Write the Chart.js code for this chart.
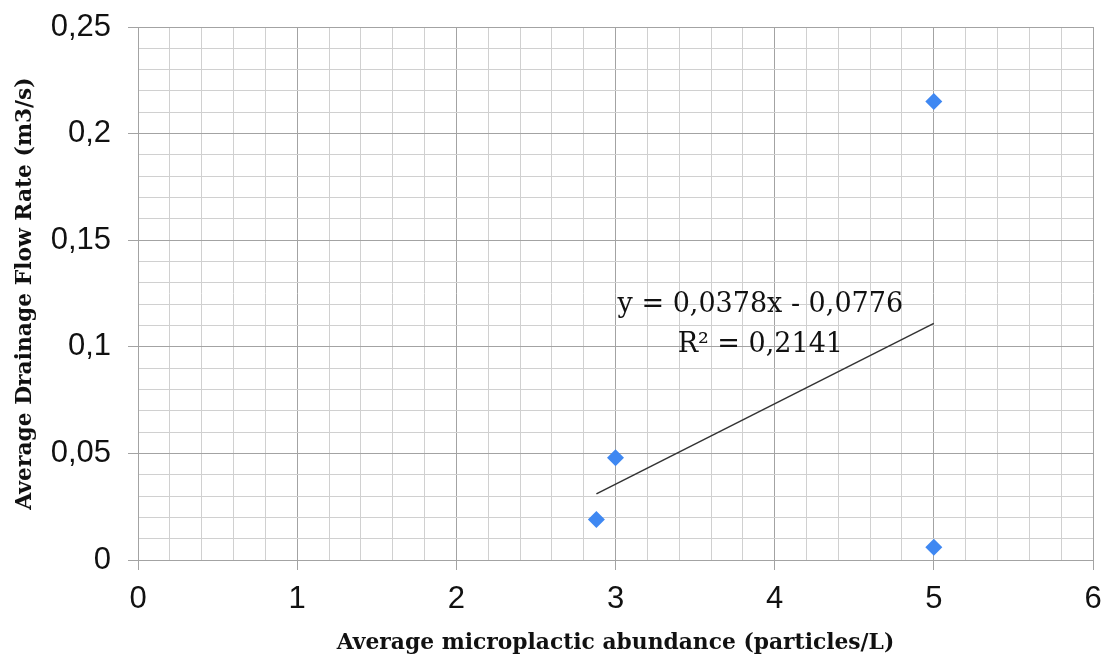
<!DOCTYPE html>
<html>
<head>
<meta charset="utf-8">
<script src="https://cdn.jsdelivr.net/npm/chart.js@4"></script>
<style>
  html, body { margin: 0; padding: 0; background: #fff; }
  #wrap { width: 1105px; height: 657px; }
</style>
</head>
<body>
<div id="wrap"><canvas id="myChart" width="1105" height="657"></canvas></div>
<script>
const abundance = [2.88, 3.0, 5.0, 5.0];
const flowRate = [0.019, 0.048, 0.006, 0.215];
const trendX = [2.88, 5.0];
const trendY = [0.031, 0.111];
const yTickLabels = ['0', '0,05', '0,1', '0,15', '0,2', '0,25'];
const xTickLabels = ['0', '1', '2', '3', '4', '5', '6'];
const trendText = ['y = 0,0378x - 0,0776', 'R\u00b2 = 0,2141'];
const trendTextAt = { x: 3.91, y1: 0.1196, y2: 0.1008 };

const MAJOR = '#a3a3a3';
const MINOR = '#d0d0d0';

const isMajorX = v => Math.abs(v - Math.round(v)) < 1e-6;
const isMajorY = v => Math.abs(v / 0.05 - Math.round(v / 0.05)) < 1e-6;

const trendLabel = {
  id: 'trendLabel',
  afterDatasetsDraw(chart) {
    const { ctx, scales } = chart;
    ctx.save();
    ctx.fillStyle = '#111';
    ctx.font = '27px "DejaVu Serif"';
    ctx.textAlign = 'center';
    ctx.textBaseline = 'middle';
    const px = scales.x.getPixelForValue(trendTextAt.x);
    ctx.fillText(trendText[0], px, scales.y.getPixelForValue(trendTextAt.y1));
    ctx.fillText(trendText[1], px, scales.y.getPixelForValue(trendTextAt.y2));
    ctx.restore();
  }
};

const ctx = document.getElementById('myChart').getContext('2d');
new Chart(ctx, {
  type: 'scatter',
  data: {
    datasets: [
      {
        label: 'points',
        data: abundance.map((x, i) => ({ x: x, y: flowRate[i] })),
        pointStyle: 'rectRot',
        pointRadius: 8.5,
        pointHoverRadius: 8.5,
        backgroundColor: '#3f88f2',
        borderColor: '#3f88f2',
        borderWidth: 0
      },
      {
        label: 'trend',
        type: 'line',
        data: trendX.map((x, i) => ({ x: x, y: trendY[i] })),
        borderColor: '#333',
        borderWidth: 1.5,
        pointRadius: 0,
        fill: false
      }
    ]
  },
  options: {
    responsive: false,
    animation: false,
    layout: { padding: { left: 12, top: 27, right: 12, bottom: 1 } },
    plugins: { legend: { display: false }, tooltip: { enabled: false } },
    scales: {
      x: {
        type: 'linear',
        min: 0,
        max: 6,
        afterFit: s => { s.height = 96; s.paddingLeft = 0; s.paddingRight = 0; },
        border: { color: MAJOR, width: 1 },
        grid: {
          color: c => isMajorX(c.tick.value) ? MAJOR : MINOR,
          tickColor: c => isMajorX(c.tick.value) ? MAJOR : 'rgba(0,0,0,0)',
          tickLength: 10,
          lineWidth: 1
        },
        ticks: {
          stepSize: 0.2,
          autoSkip: false,
          maxRotation: 0,
          padding: 11,
          color: '#111',
          font: { family: '"Liberation Sans"', size: 31 },
          callback: v => isMajorX(v) ? xTickLabels[Math.round(v)] : ''
        },
        title: {
          display: true,
          text: 'Average microplactic abundance (particles/L)',
          color: '#111',
          padding: 0,
          font: { family: '"DejaVu Serif"', size: 21.8, weight: 'bold' }
        }
      },
      y: {
        type: 'linear',
        min: 0,
        max: 0.25,
        afterFit: s => { s.width = 126; s.paddingTop = 0; s.paddingBottom = 0; },
        border: { color: MAJOR, width: 1 },
        grid: {
          color: c => isMajorY(c.tick.value) ? MAJOR : MINOR,
          tickColor: c => isMajorY(c.tick.value) ? MAJOR : 'rgba(0,0,0,0)',
          tickLength: 10,
          lineWidth: 1
        },
        ticks: {
          stepSize: 0.01,
          autoSkip: false,
          padding: 17,
          color: '#111',
          font: { family: '"Liberation Sans"', size: 31 },
          callback: v => isMajorY(v) ? yTickLabels[Math.round(v / 0.05)] : ''
        },
        title: {
          display: true,
          text: 'Average Drainage Flow Rate (m3/s)',
          color: '#111',
          padding: 0,
          font: { family: '"DejaVu Serif"', size: 21.8, weight: 'bold' }
        }
      }
    }
  },
  plugins: [trendLabel]
});
</script>
</body>
</html>
